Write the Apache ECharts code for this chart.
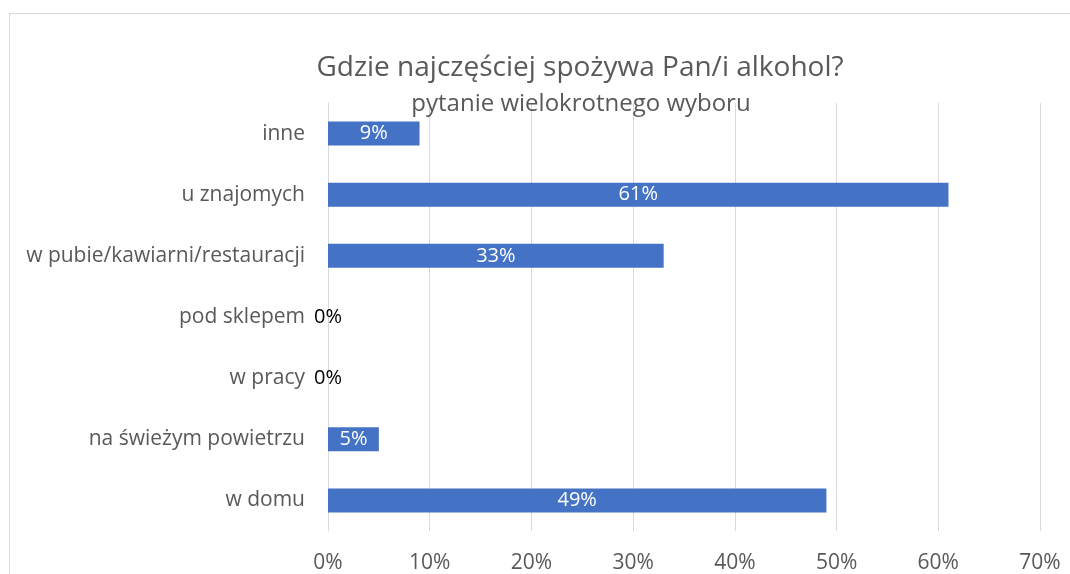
<!DOCTYPE html>
<html>
<head>
<meta charset="utf-8">
<script src="https://cdn.jsdelivr.net/npm/echarts@6/dist/echarts.min.js"></script>
<style>
  html, body { margin: 0; padding: 0; background: #fff; overflow: hidden; }
  .frame {
    position: absolute; left: 9px; top: 13px;
    width: 1200px; height: 700px;
    border: 1px solid #d9d9d9;
  }
  #chart { position: absolute; left: 0; top: 0; width: 1070px; height: 574px; }
</style>
</head>
<body>
<div class="frame"></div>
<div id="chart"></div>
<script>
// dane z wykresu (kolejność od dołu do góry)
var categories = ['w domu', 'na świeżym powietrzu', 'w pracy', 'pod sklepem', 'w pubie/kawiarni/restauracji', 'u znajomych', 'inne'];
var values = [49, 5, 0, 0, 33, 61, 9];
var tickLabels = ['0%', '10%', '20%', '30%', '40%', '50%', '60%', '70%'];

var myChart = echarts.init(document.getElementById('chart'));

var barData = values.map(function (v) {
  var item = { value: v };
  if (v === 0) {
    item.label = { color: '#000000' };
  }
  return item;
});

myChart.setOption({
  animation: false,
  textStyle: { fontFamily: 'Open Sans' },
  title: [
    {
      text: 'Gdzie najczęściej spożywa Pan/i alkohol?',
      left: 575,
      textAlign: 'center',
      top: 47,
      textStyle: { fontSize: 28, lineHeight: 32, fontWeight: 'normal', color: '#595959', fontFamily: 'Open Sans' }
    },
    {
      text: 'pytanie wielokrotnego wyboru',
      left: 576,
      textAlign: 'center',
      top: 85,
      textStyle: { fontSize: 24, lineHeight: 28, fontWeight: 'normal', color: '#595959', fontFamily: 'Open Sans' }
    }
  ],
  grid: {
    left: 328,
    top: 103,
    width: 712,
    height: 430
  },
  xAxis: {
    type: 'value',
    min: 0,
    max: 70,
    interval: 10,
    axisLine: { show: false },
    axisTick: { show: false },
    splitLine: { lineStyle: { color: '#d9d9d9', width: 1 } },
    axisLabel: {
      margin: 22,
      fontSize: 21,
      color: '#595959',
      formatter: function (v) { return tickLabels[v / 10]; }
    }
  },
  yAxis: {
    type: 'category',
    data: categories,
    axisLine: { show: true, lineStyle: { color: '#d9d9d9' } },
    axisTick: { show: false },
    axisLabel: { margin: 23, fontSize: 21, color: '#595959' }
  },
  series: [
    {
      type: 'bar',
      data: barData,
      barWidth: 24,
      itemStyle: { color: '#4472C4' },
      label: {
        show: true,
        position: 'inside',
        fontSize: 20,
        color: '#ffffff',
        formatter: function (p) { return p.value + '%'; }
      }
    }
  ]
});
</script>
</body>
</html>
